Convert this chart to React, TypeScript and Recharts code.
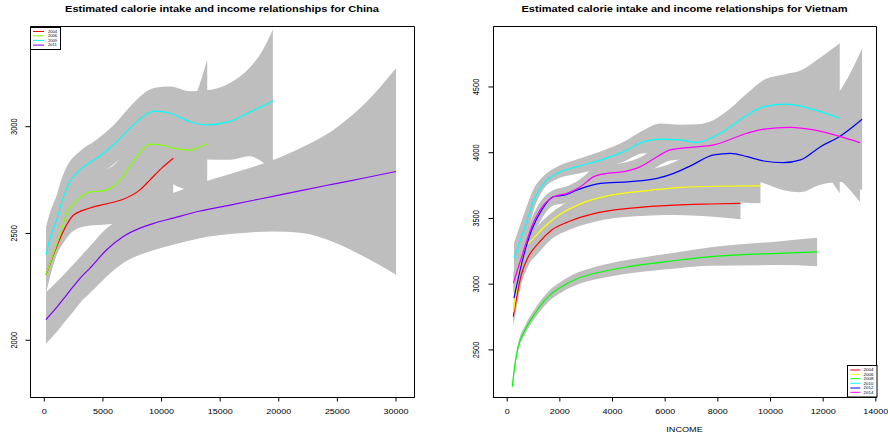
import React from 'react';
import { ComposedChart, Area, Line, XAxis, YAxis, ReferenceArea, Legend } from 'recharts';

const FONT = '"Liberation Sans", Arial, Helvetica, sans-serif';

// ---------- China ----------
const chinaTitle = 'Estimated calorie intake and income relationships for China';
const chinaXTicks = [0, 5000, 10000, 15000, 20000, 25000, 30000];
const chinaYTicks = [2000, 2500, 3000];
const chinaXDomain = [-1177, 31579];
const chinaYDomain = [1732, 3469];

const cn04X = [145, 600, 1060, 1620, 2475, 3900, 5320, 6740, 8160, 9020, 10000, 11000];
const cn04Y = [2307, 2375, 2439, 2510, 2585, 2619, 2639, 2660, 2704, 2751, 2805, 2852];
const cn04Lo = [2222, 2320, 2400, 2455, 2512, 2537, 2542, 2555, 2590, 2625, 2655, 2682];
const cn04Hi = [2392, 2430, 2478, 2565, 2658, 2701, 2736, 2765, 2818, 2877, 2955, 3022];

const cn06X = [145, 600, 1060, 1500, 1910, 2500, 3045, 3900, 4750, 5320, 5890, 6460, 7310, 7880, 9020, 10150, 11100, 12430, 13000, 13900];
const cn06Y = [2307, 2378, 2448, 2520, 2595, 2640, 2668, 2695, 2698, 2704, 2720, 2751, 2815, 2860, 2918, 2912, 2898, 2890, 2900, 2920];
const cn06Lo = [2222, 2325, 2405, 2470, 2520, 2560, 2580, 2600, 2603, 2608, 2622, 2650, 2705, 2745, 2780, 2765, 2727, 2690, 2640, 2525];
const cn06Hi = [2392, 2431, 2491, 2570, 2670, 2720, 2756, 2790, 2793, 2800, 2818, 2852, 2925, 2975, 3056, 3059, 3069, 3090, 3160, 3315];

const cn09X = [145, 500, 1060, 1500, 2100, 3045, 4470, 5890, 7310, 8590, 9440, 10720, 12430, 13850, 15840, 17500, 18600, 19500];
const cn09Y = [2400, 2480, 2564, 2650, 2735, 2798, 2852, 2914, 2992, 3055, 3073, 3063, 3023, 3008, 3025, 3068, 3095, 3122];
const cn09Lo = [2270, 2360, 2448, 2540, 2640, 2711, 2764, 2823, 2891, 2950, 2964, 2938, 2880, 2846, 2845, 2861, 2835, 2789];
const cn09Hi = [2530, 2600, 2680, 2760, 2830, 2885, 2940, 3005, 3093, 3160, 3182, 3188, 3166, 3170, 3205, 3275, 3355, 3455];

const cn11X = [145, 1000, 1910, 2475, 3045, 3900, 5320, 6740, 8160, 9500, 11000, 13280, 15840, 19500, 22000, 24650, 27500, 30000];
const cn11Y = [2097, 2150, 2213, 2252, 2290, 2338, 2424, 2486, 2525, 2550, 2572, 2605, 2633, 2674, 2702, 2731, 2762, 2790];
const cn11Lo = [1985, 2035, 2097, 2135, 2175, 2221, 2299, 2362, 2400, 2425, 2447, 2478, 2497, 2509, 2502, 2460, 2385, 2307];
const cn11Hi = [2225, 2270, 2322, 2355, 2389, 2440, 2524, 2580, 2625, 2660, 2689, 2735, 2779, 2844, 2904, 2985, 3117, 3273];

// ---------- Vietnam ----------
const vietTitle = 'Estimated calorie intake and income relationships for Vietnam';
const vietXLabel = 'INCOME';
const vietXTicks = [0, 2000, 4000, 6000, 8000, 10000, 12000, 14000];
const vietYTicks = [2500, 3000, 3500, 4000, 4500];
const vietXDomain = [-520, 14026];
const vietYDomain = [2138, 4960];

const vn04X = [232, 550, 800, 1180, 1690, 2320, 3335, 4600, 6373, 7700, 8860];
const vn04Y = [2753, 3083, 3209, 3311, 3412, 3475, 3539, 3577, 3602, 3610, 3615];
const vn04Lo = [2677, 3008, 3139, 3236, 3344, 3410, 3475, 3512, 3527, 3515, 3493];
const vn04Hi = [2829, 3158, 3279, 3386, 3480, 3540, 3603, 3642, 3677, 3705, 3737];

const vn06X = [240, 450, 676, 1056, 1561, 2070, 2830, 3970, 5490, 6581, 8000, 9620];
const vn06Y = [2790, 3090, 3260, 3361, 3463, 3539, 3615, 3678, 3716, 3737, 3745, 3747];
const vn06Lo = [2720, 3022, 3195, 3301, 3403, 3479, 3555, 3616, 3648, 3662, 3630, 3615];
const vn06Hi = [2860, 3158, 3325, 3421, 3523, 3599, 3675, 3740, 3784, 3812, 3860, 3879];

const vn08X = [194, 300, 420, 680, 1060, 1560, 2070, 2700, 3335, 4600, 6400, 7750, 10280, 11770];
const vn08Y = [2221, 2398, 2525, 2652, 2779, 2905, 2981, 3045, 3083, 3133, 3180, 3210, 3235, 3245];
const vn08Lo = [2196, 2370, 2495, 2619, 2743, 2865, 2939, 3000, 3035, 3081, 3120, 3140, 3145, 3137];
const vn08Hi = [2246, 2426, 2555, 2685, 2815, 2945, 3023, 3090, 3131, 3185, 3240, 3280, 3325, 3353];

const vn10X = [258, 676, 1010, 1390, 1900, 2658, 3543, 4430, 5190, 5822, 6581, 7215, 7846, 8480, 9114, 9745, 10504, 11138, 11898, 12630];
const vn10Y = [3197, 3437, 3640, 3767, 3843, 3894, 3944, 4008, 4084, 4104, 4097, 4079, 4122, 4198, 4287, 4350, 4370, 4355, 4312, 4262];
const vn10Lo = [3083, 3319, 3565, 3725, 3800, 3840, 3878, 3932, 3995, 3986, 3981, 3942, 3995, 4058, 4122, 4147, 4145, 4085, 3899, 3692];
const vn10Hi = [3311, 3555, 3725, 3825, 3893, 3950, 4010, 4084, 4173, 4222, 4213, 4216, 4249, 4338, 4452, 4553, 4595, 4625, 4725, 4832];

const vn12X = [258, 550, 930, 1310, 1750, 2195, 2658, 3543, 4683, 5696, 6327, 6960, 7846, 8480, 9114, 9745, 10504, 11138, 11898, 12657, 13480];
const vn12Y = [2893, 3159, 3412, 3564, 3665, 3678, 3716, 3767, 3780, 3805, 3843, 3900, 3983, 3995, 3970, 3937, 3924, 3945, 4046, 4127, 4254];
const vn12Lo = [2818, 3087, 3342, 3496, 3600, 3613, 3651, 3697, 3705, 3725, 3758, 3800, 3843, 3840, 3810, 3767, 3714, 3700, 3756, 3777, 3714];
const vn12Hi = [2968, 3231, 3472, 3620, 3715, 3735, 3775, 3837, 3855, 3885, 3928, 4000, 4123, 4150, 4130, 4107, 4134, 4190, 4336, 4477, 4794];

const vn14X = [232, 550, 930, 1435, 1770, 2278, 2784, 3290, 3797, 4430, 5062, 5696, 6200, 6960, 7846, 9114, 9745, 10758, 11645, 12657, 13400];
const vn14Y = [3007, 3209, 3437, 3615, 3665, 3691, 3741, 3818, 3843, 3856, 3894, 3970, 4021, 4041, 4059, 4148, 4180, 4193, 4173, 4122, 4076];
const vn14Lo = [2927, 3134, 3365, 3547, 3600, 3626, 3676, 3753, 3778, 3788, 3822, 3894, 3941, 3953, 3959, 4018, 4030, 4003, 3933, 3792, 3626];
const vn14Hi = [3087, 3284, 3500, 3670, 3715, 3745, 3800, 3883, 3908, 3924, 3966, 4046, 4101, 4129, 4159, 4278, 4330, 4383, 4413, 4452, 4526];

type Series = { name: string; color: string; x: number[]; y: number[]; lo: number[]; hi: number[] };

const chinaSeries: Series[] = [
  { name: '2004', color: '#FF0000', x: cn04X, y: cn04Y, lo: cn04Lo, hi: cn04Hi },
  { name: '2006', color: '#80FF00', x: cn06X, y: cn06Y, lo: cn06Lo, hi: cn06Hi },
  { name: '2009', color: '#00FFFF', x: cn09X, y: cn09Y, lo: cn09Lo, hi: cn09Hi },
  { name: '2011', color: '#8000FF', x: cn11X, y: cn11Y, lo: cn11Lo, hi: cn11Hi },
];

const vietSeries: Series[] = [
  { name: '2004', color: '#FF0000', x: vn04X, y: vn04Y, lo: vn04Lo, hi: vn04Hi },
  { name: '2006', color: '#FFFF00', x: vn06X, y: vn06Y, lo: vn06Lo, hi: vn06Hi },
  { name: '2008', color: '#00FF00', x: vn08X, y: vn08Y, lo: vn08Lo, hi: vn08Hi },
  { name: '2010', color: '#00FFFF', x: vn10X, y: vn10Y, lo: vn10Lo, hi: vn10Hi },
  { name: '2012', color: '#0000FF', x: vn12X, y: vn12Y, lo: vn12Lo, hi: vn12Hi },
  { name: '2014', color: '#FF00FF', x: vn14X, y: vn14Y, lo: vn14Lo, hi: vn14Hi },
];

const lineData = (s: Series) => s.x.map((x, i) => ({ x, y: s.y[i] }));
const bandData = (s: Series) => s.x.map((x, i) => ({ x, r: [s.lo[i], s.hi[i]] }));

const BAND = '#BEBEBE';

const makeXTick = (dy: number) => (props: any) => {
  const { x, y, payload } = props;
  return (
    <g transform={`translate(${x},${y + dy}) scale(1.2,1)`}>
      <text x={0} y={0} dy="0.36em" textAnchor="middle" fontSize={7.5} fontFamily={FONT} fill="#000">
        {payload.value}
      </text>
    </g>
  );
};

const makeYTick = (dx: number) => (props: any) => {
  const { x, y, payload } = props;
  return (
    <g transform={`translate(${x - dx},${y}) scale(1.2,1) rotate(-90)`}>
      <text x={0} y={0} dy="0.36em" textAnchor="middle" fontSize={7.5} fontFamily={FONT} fill="#000">
        {payload.value}
      </text>
    </g>
  );
};

function LegendBox({ w, h, rows, items, lx1, lx2, tx, fs }: any) {
  return (
    <svg width={w} height={h} style={{ display: 'block', overflow: 'visible' }}>
      <rect x={0.5} y={0.5} width={w - 1} height={h - 1} fill="#fff" stroke="#000" strokeWidth={1} />
      {items.map((it: Series, i: number) => (
        <g key={it.name}>
          <line x1={lx1} x2={lx2} y1={rows[i]} y2={rows[i]} stroke={it.color} strokeWidth={1} />
          <g transform={`translate(${tx},${rows[i]}) scale(1.2,1)`}>
            <text x={0} y={0} dy="0.36em" fontSize={fs} fontFamily={FONT} fill="#000">
              {it.name}
            </text>
          </g>
        </g>
      ))}
    </svg>
  );
}

function Panel({ series, xDomain, yDomain, xTicks, yTicks, width, yAxisWidth, rightMargin, yTickDx, legend }: any) {
  return (
    <ComposedChart
      width={width}
      height={434}
      margin={{ top: 26.5, right: rightMargin, bottom: 0, left: 0 }}
      style={{ fontFamily: FONT }}
    >
      <XAxis
        type="number"
        dataKey="x"
        domain={xDomain}
        ticks={xTicks}
        allowDataOverflow
        height={36.5}
        tickSize={4}
        tickMargin={0}
        stroke="#000"
        tick={makeXTick(10)}
        interval={0}
      />
      <YAxis
        type="number"
        domain={yDomain}
        ticks={yTicks}
        allowDataOverflow
        width={yAxisWidth}
        tickSize={5}
        tickMargin={0}
        stroke="#000"
        tick={makeYTick(yTickDx)}
        interval={0}
      />
      {series.map((s: Series) => (
        <Area
          key={'b' + s.name}
          data={bandData(s)}
          dataKey="r"
          type="monotone"
          stroke="none"
          fill={BAND}
          fillOpacity={1}
          isAnimationActive={false}
          legendType="none"
        />
      ))}
      {series.map((s: Series) => (
        <Line
          key={'l' + s.name}
          data={lineData(s)}
          dataKey="y"
          name={s.name}
          type="monotone"
          stroke={s.color}
          strokeWidth={1.2}
          dot={false}
          activeDot={false}
          isAnimationActive={false}
        />
      ))}
      <ReferenceArea
        x1={xDomain[0]}
        x2={xDomain[1]}
        y1={yDomain[0]}
        y2={yDomain[1]}
        fill="none"
        fillOpacity={0}
        stroke="#000"
        strokeWidth={1}
        ifOverflow="visible"
      />
      <Legend
        layout="vertical"
        align="center"
        verticalAlign="middle"
        wrapperStyle={{ ...legend.style, lineHeight: 0, margin: 0, padding: 0 }}
        content={() => <LegendBox {...legend.box} items={series} />}
      />
    </ComposedChart>
  );
}

export default function App() {
  return (
    <div style={{ position: 'absolute', left: 0, top: 0, width: 888, height: 434, background: '#fff', overflow: 'hidden' }}>
      <div style={{ position: 'absolute', left: 0, top: 0 }}>
        <Panel
          series={chinaSeries}
          xDomain={chinaXDomain}
          yDomain={chinaYDomain}
          xTicks={chinaXTicks}
          yTicks={chinaYTicks}
          width={444}
          yAxisWidth={30.5}
          rightMargin={29.5}
          yTickDx={11.3}
          legend={{
            style: { left: 30, top: 26.5, width: 31, height: 23 },
            box: { w: 31, h: 23, rows: [4.5, 8.8, 13.4, 18.1], lx1: 3, lx2: 14, tx: 18, fs: 3.4 },
          }}
        />
      </div>
      <div style={{ position: 'absolute', left: 444, top: 0 }}>
        <Panel
          series={vietSeries}
          xDomain={vietXDomain}
          yDomain={vietYDomain}
          xTicks={vietXTicks}
          yTicks={vietYTicks}
          width={444}
          yAxisWidth={49.5}
          rightMargin={11.5}
          yTickDx={12.3}
          legend={{
            style: { left: 402.5, top: 365, width: 30.5, height: 32.5 },
            box: { w: 30.5, h: 32.5, rows: [5, 9.3, 13.7, 18.3, 23, 27.3], lx1: 3.3, lx2: 13.3, tx: 16.6, fs: 3.7 },
          }}
        />
      </div>
      <svg width={888} height={434} style={{ position: 'absolute', left: 0, top: 0, pointerEvents: 'none' }}>
        <g transform="translate(222,9) scale(1.2,1)">
          <text x={0} y={0} dy="0.36em" textAnchor="middle" fontSize={9.2} fontWeight="bold" fontFamily={FONT} fill="#000">
            {chinaTitle}
          </text>
        </g>
        <g transform="translate(684.5,9) scale(1.2,1)">
          <text x={0} y={0} dy="0.36em" textAnchor="middle" fontSize={9.2} fontWeight="bold" fontFamily={FONT} fill="#000">
            {vietTitle}
          </text>
        </g>
        <g transform="translate(684.5,429) scale(1.2,1)">
          <text x={0} y={0} dy="0.36em" textAnchor="middle" fontSize={7.6} fontFamily={FONT} fill="#000">
            {vietXLabel}
          </text>
        </g>
      </svg>
    </div>
  );
}
